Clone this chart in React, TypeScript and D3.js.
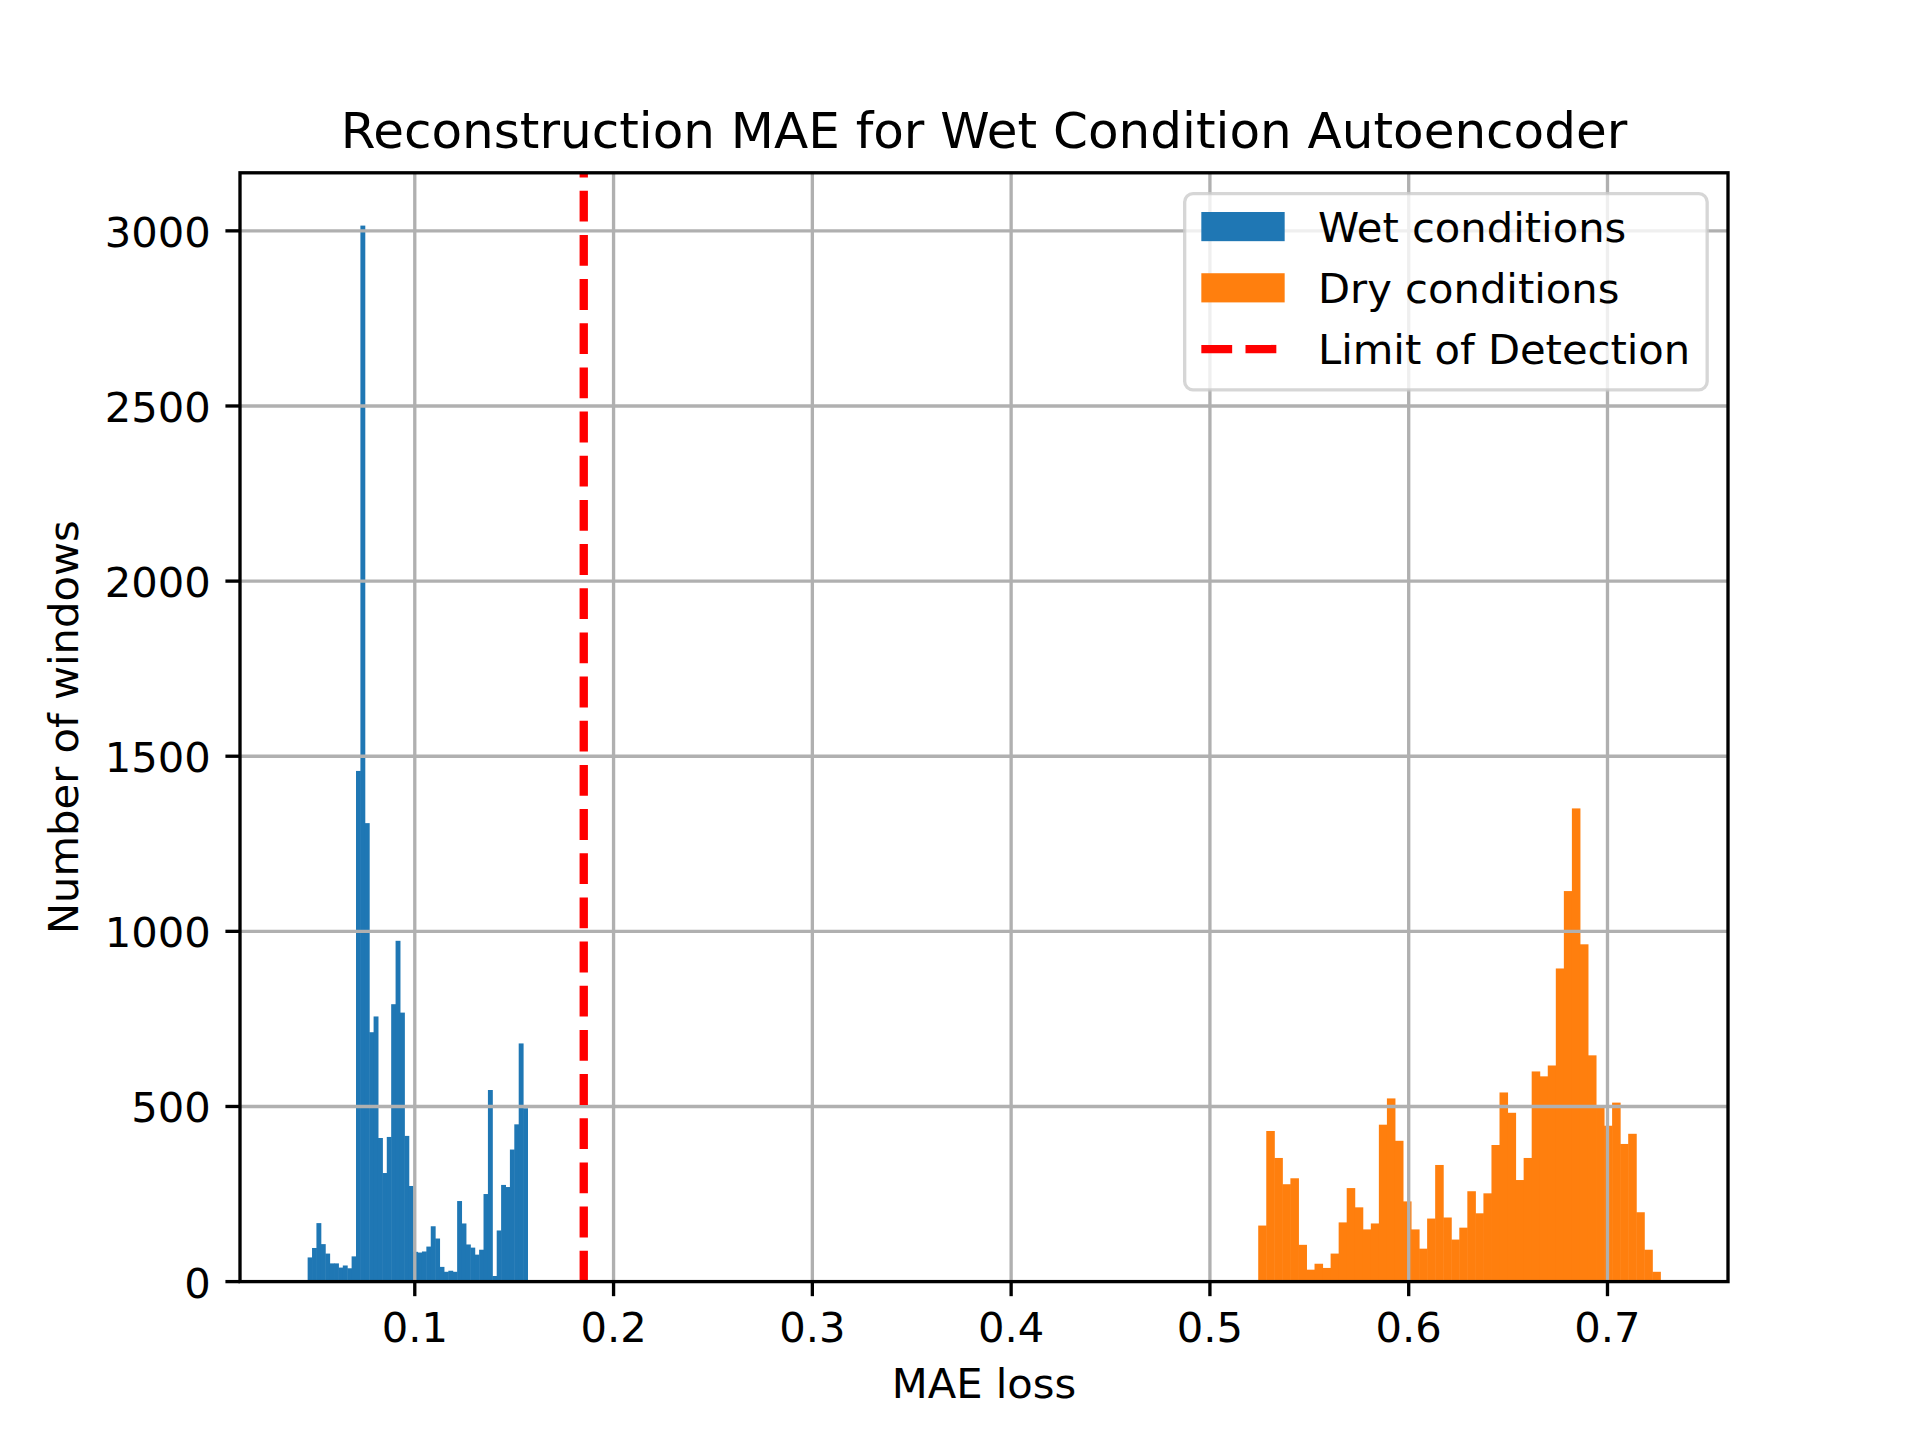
import React from "react";
import * as d3 from "d3";

// ---- data ----
const wetCounts = [
  69, 96, 167, 107, 80, 52, 52, 40, 46, 38,
  72, 1458, 3015, 1309, 712, 757, 410, 310, 413, 792,
  973, 768, 416, 273, 85, 83, 86, 100, 158, 123,
  42, 28, 31, 28, 230, 166, 106, 97, 77, 91,
  250, 547, 16, 146, 276, 270, 377, 449, 680, 495,
];
const wetRange = [0.0461, 0.1567];

const dryCounts = [
  160, 430, 353, 278, 295, 105, 34, 51, 39, 80,
  169, 267, 212, 149, 166, 448, 523, 402, 229, 149,
  94, 180, 333, 183, 120, 154, 258, 195, 252, 390,
  540, 482, 290, 353, 600, 586, 617, 894, 1115, 1351,
  963, 646, 498, 445, 511, 393, 422, 198, 91, 28,
];
const dryRange = [0.5243, 0.7266];

const limitOfDetection = 0.185;

const xTicks = [0.1, 0.2, 0.3, 0.4, 0.5, 0.6, 0.7];
const yTicks = [0, 500, 1000, 1500, 2000, 2500, 3000];

const legendLabels = ["Wet conditions", "Dry conditions", "Limit of Detection"];

const title = "Reconstruction MAE for Wet Condition Autoencoder";
const xLabel = "MAE loss";
const yLabel = "Number of windows";

// ---- layout (matplotlib default at 300 dpi) ----
const W = 1920;
const H = 1440;
const PT = 300 / 72;
const left = 0.125 * W;
const right = 0.9 * W;
const top = H - 0.88 * H;
const bottom = H - 0.11 * H;
const FS = 10 * PT;
const LW = 0.8 * PT;
const TICK = 3.5 * PT;
const FONT = "DejaVu Sans, sans-serif";

function bins(counts: number[], range: number[]) {
  const n = counts.length;
  const w = (range[1] - range[0]) / n;
  return counts.map((c, i) => ({ x0: range[0] + i * w, x1: range[0] + (i + 1) * w, c }));
}

export default function App() {
  const xmin = wetRange[0];
  const xmax = dryRange[1];
  const span = xmax - xmin;
  const x = d3.scaleLinear().domain([xmin - 0.05 * span, xmax + 0.05 * span]).range([left, right]);
  const ymaxData = d3.max([...wetCounts, ...dryCounts]) as number;
  const y = d3.scaleLinear().domain([0, ymaxData * 1.05]).range([bottom, top]);

  const wetBins = bins(wetCounts, wetRange);
  const dryBins = bins(dryCounts, dryRange);

  // legend geometry
  const pad = 0.5 * FS;
  const borderPad = 0.4 * FS;
  const handleLen = 2.0 * FS;
  const handleTextPad = 0.8 * FS;
  const labelSpacing = 0.5 * FS;
  const textW = 372.5;
  const rowH = 40.4;
  const legW = 2 * borderPad + handleLen + handleTextPad + textW;
  const legH = 2 * borderPad + 3 * rowH + 2 * labelSpacing;
  const legR = right - pad;
  const legL = legR - legW;
  const legT = top + pad;
  const hx = legL + borderPad;
  const tx = hx + handleLen + handleTextPad;
  const baseline = (i: number) => legT + borderPad + i * (rowH + labelSpacing) + 31.7;

  return (
    <svg
      width={W}
      height={H}
      style={{ position: "absolute", left: 0, top: 0, background: "#fff" }}
      fontFamily={FONT}
    >
      <rect x={0} y={0} width={W} height={H} fill="#fff" />
      <defs>
        <clipPath id="ax">
          <rect x={left} y={top} width={right - left} height={bottom - top} />
        </clipPath>
      </defs>
      <g clipPath="url(#ax)">
        {wetBins.map((b, i) => (
          <rect key={"w" + i} x={x(b.x0)} y={y(b.c)} width={x(b.x1) - x(b.x0) + 0.5} height={y(0) - y(b.c)} fill="#1f77b4" />
        ))}
        {dryBins.map((b, i) => (
          <rect key={"d" + i} x={x(b.x0)} y={y(b.c)} width={x(b.x1) - x(b.x0) + 0.5} height={y(0) - y(b.c)} fill="#ff7f0e" />
        ))}
        {xTicks.map((t) => (
          <line key={"gx" + t} x1={x(t)} x2={x(t)} y1={top} y2={bottom} stroke="#b0b0b0" strokeWidth={LW} />
        ))}
        {yTicks.map((t) => (
          <line key={"gy" + t} x1={left} x2={right} y1={y(t)} y2={y(t)} stroke="#b0b0b0" strokeWidth={LW} />
        ))}
        <line
          x1={x(limitOfDetection)}
          x2={x(limitOfDetection)}
          y1={bottom}
          y2={top}
          stroke="#ff0000"
          strokeWidth={2 * PT}
          strokeDasharray={`${7.4 * PT} ${3.2 * PT}`}
        />
      </g>
      <rect x={left} y={top} width={right - left} height={bottom - top} fill="none" stroke="#000" strokeWidth={LW} />
      {xTicks.map((t) => (
        <g key={"tx" + t}>
          <line x1={x(t)} x2={x(t)} y1={bottom} y2={bottom + TICK} stroke="#000" strokeWidth={LW} />
          <text x={x(t)} y={bottom + 2 * TICK + 31.7} fontSize={FS} textAnchor="middle" fill="#000">
            {t.toFixed(1)}
          </text>
        </g>
      ))}
      {yTicks.map((t) => (
        <g key={"ty" + t}>
          <line x1={left - TICK} x2={left} y1={y(t)} y2={y(t)} stroke="#000" strokeWidth={LW} />
          <text x={left - 2 * TICK} y={y(t) + 16} fontSize={FS} textAnchor="end" fill="#000">
            {String(t)}
          </text>
        </g>
      ))}
      <text x={(left + right) / 2} y={top - 6 * PT} fontSize={12 * PT} textAnchor="middle" fill="#000">
        {title}
      </text>
      <text x={(left + right) / 2} y={1398} fontSize={FS} textAnchor="middle" fill="#000">
        {xLabel}
      </text>
      <text
        transform={`translate(${78},${(top + bottom) / 2}) rotate(-90)`}
        fontSize={FS}
        textAnchor="middle"
        fill="#000"
      >
        {yLabel}
      </text>
      {/* legend */}
      <rect
        x={legL}
        y={legT}
        width={legW}
        height={legH}
        rx={0.2 * FS}
        fill="#fff"
        fillOpacity={0.8}
        stroke="#cccccc"
        strokeOpacity={0.8}
        strokeWidth={LW}
      />
      <rect x={hx} y={baseline(0) - 30} width={handleLen} height={0.7 * FS} fill="#1f77b4" />
      <rect x={hx} y={baseline(1) - 30} width={handleLen} height={0.7 * FS} fill="#ff7f0e" />
      <line
        x1={hx}
        x2={hx + handleLen}
        y1={baseline(2) - 15.4}
        y2={baseline(2) - 15.4}
        stroke="#ff0000"
        strokeWidth={2 * PT}
        strokeDasharray={`${7.4 * PT} ${3.2 * PT}`}
      />
      {legendLabels.map((l, i) => (
        <text key={l} x={tx} y={baseline(i)} fontSize={FS} fill="#000">
          {l}
        </text>
      ))}
    </svg>
  );
}
